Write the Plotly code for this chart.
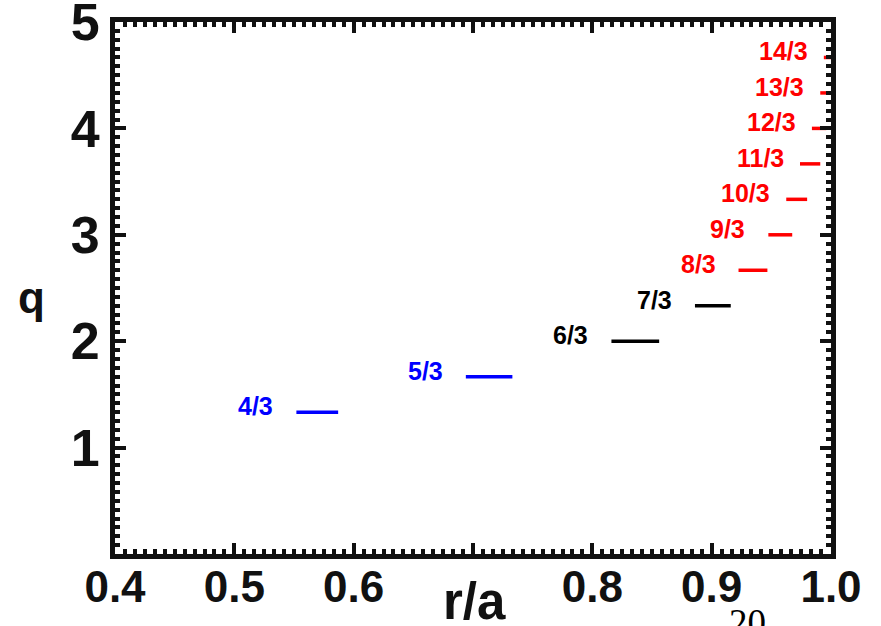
import plotly.graph_objects as go

# Rational surfaces q = m/3 and the radial extent of each island chain
numerators = [4, 5, 6, 7, 8, 9, 10, 11, 12, 13, 14]
denominator = 3
r_start = [0.552, 0.694, 0.816, 0.886, 0.9225, 0.9475, 0.9625, 0.974, 0.984, 0.991, 0.994]
r_end = [0.587, 0.733, 0.856, 0.916, 0.9467, 0.9675, 0.980, 0.991, 0.996, 1.002, 1.002]
colors = ["#0000ff", "#0000ff", "#000000", "#000000",
          "#ff0000", "#ff0000", "#ff0000", "#ff0000", "#ff0000", "#ff0000", "#ff0000"]

x_ticks = [0.4, 0.5, 0.6, 0.7, 0.8, 0.9, 1.0]
x_tick_labels = ["0.4", "0.5", "0.6", "", "0.8", "0.9", "1.0"]
y_ticks = [1, 2, 3, 4, 5]
y_tick_labels = ["1", "2", "3", "4", "5"]

W, H = 881, 626
L, R, T, B = 115, 50, 22, 72

sans = "Liberation Sans, Arial, Helvetica, sans-serif"


def px_x(px):
    return (px - L) / (W - L - R)


def px_y(py):
    return (H - B - py) / (H - T - B)


fig = go.Figure()

annotations = []
for m, x0, x1, c in zip(numerators, r_start, r_end, colors):
    q = m / denominator
    fig.add_trace(go.Scatter(
        x=[x0, x1], y=[q, q], mode="lines",
        line=dict(color=c, width=3.5), showlegend=False, hoverinfo="skip",
    ))
    # labels of the crowded outer surfaces sit a little closer to their marks
    gap = 21 if m <= 9 else 14
    annotations.append(dict(
        x=x0, y=q, xref="x", yref="y", text=f"{m}/{denominator}",
        showarrow=False, xanchor="right", yanchor="middle",
        xshift=-gap, yshift=6,
        font=dict(family=sans, size=25, color=c, weight="bold"),
    ))

annotations += [
    dict(x=px_x(31), y=px_y(297), xref="paper", yref="paper", text="q",
         showarrow=False, xanchor="center", yanchor="middle",
         font=dict(family=sans, size=44, color="#111111", weight="bold")),
    dict(x=px_x(474), y=px_y(601), xref="paper", yref="paper", text="r/a",
         showarrow=False, xanchor="center", yanchor="middle",
         font=dict(family=sans, size=51, color="#111111", weight="bold")),
    dict(x=px_x(747), y=px_y(600), xref="paper", yref="paper", text="20",
         showarrow=False, xanchor="center", yanchor="top",
         font=dict(family="Liberation Serif, Times New Roman, serif", size=37, color="#000000")),
]

axis_common = dict(
    showline=True, linewidth=5, linecolor="#111111", mirror="allticks",
    ticks="inside", ticklen=11, tickwidth=4, tickcolor="#111111",
    showgrid=False, zeroline=False, automargin=False,
    ticklabeloverflow="allow",
)

fig.update_layout(
    width=W, height=H,
    margin=dict(l=L, r=R, t=T, b=B, pad=0),
    paper_bgcolor="white", plot_bgcolor="white",
    xaxis=dict(
        range=[0.4, 1.0], tickvals=x_ticks, ticktext=x_tick_labels,
        tickfont=dict(family=sans, size=44, color="#111111", weight="bold"),
        ticklabelstandoff=-10,
        minor=dict(dtick=0.1 / 12, tick0=0.4, ticks="inside", ticklen=5,
                   tickwidth=4, tickcolor="#111111"),
        **axis_common,
    ),
    yaxis=dict(
        range=[0, 5], tickvals=y_ticks, ticktext=y_tick_labels,
        tickfont=dict(family=sans, size=52, color="#111111", weight="bold"),
        ticklabelstandoff=0,
        minor=dict(dtick=1 / 12, tick0=0, ticks="inside", ticklen=5,
                   tickwidth=4, tickcolor="#111111"),
        **axis_common,
    ),
    annotations=annotations,
)

fig.write_html("out.html")
